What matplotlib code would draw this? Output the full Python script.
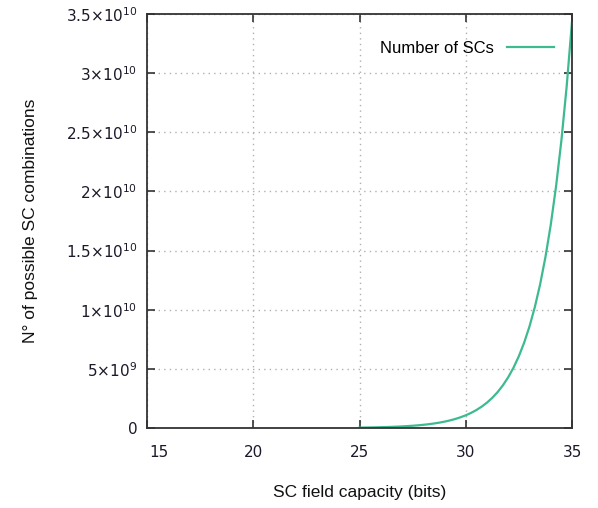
import matplotlib
matplotlib.use("Agg")
import matplotlib.pyplot as plt
from matplotlib.ticker import FixedLocator
import matplotlib.transforms as mtransforms

bits = [25.0, 25.25, 25.5, 25.75, 26.0, 26.25, 26.5, 26.75, 27.0, 27.25, 27.5, 27.75,
        28.0, 28.25, 28.5, 28.75, 29.0, 29.25, 29.5, 29.75, 30.0, 30.25, 30.5, 30.75,
        31.0, 31.25, 31.5, 31.75, 32.0, 32.25, 32.5, 32.75, 33.0, 33.25, 33.5, 33.75,
        34.0, 34.25, 34.5, 34.75, 35.0]
combos = [3.355e7, 3.990e7, 4.745e7, 5.643e7, 6.711e7, 7.981e7, 9.490e7, 1.1286e8,
          1.3422e8, 1.5962e8, 1.8981e8, 2.2573e8, 2.6844e8, 3.1923e8, 3.7962e8, 4.5146e8,
          5.3687e8, 6.3846e8, 7.5925e8, 9.0291e8, 1.0737e9, 1.2769e9, 1.5185e9, 1.8058e9,
          2.1475e9, 2.5539e9, 3.0370e9, 3.6116e9, 4.2950e9, 5.1077e9, 6.0740e9, 7.2233e9,
          8.5899e9, 1.0215e10, 1.2148e10, 1.4447e10, 1.7180e10, 2.0431e10, 2.4296e10,
          2.8893e10, 3.4360e10]
series_name = "Number of SCs"
x_ticks = [15, 20, 25, 30, 35]
y_ticks = [0, 5e9, 1e10, 1.5e10, 2e10, 2.5e10, 3e10, 3.5e10]
y_tick_labels = ["0", "5×10$^{9}$", "1×10$^{10}$", "1.5×10$^{10}$", "2×10$^{10}$",
                 "2.5×10$^{10}$", "3×10$^{10}$", "3.5×10$^{10}$"]

plt.rcParams["font.family"] = ["DejaVu Sans"]
plt.rcParams["mathtext.fontset"] = "dejavusans"

fig = plt.figure(figsize=(5.98, 5.08), dpi=100)
ax = fig.add_axes([147/598, 1-428/508, (572-147)/598, (428-14)/508])

line_color = "#3dba8f"
ax.plot(bits, combos, color=line_color, lw=1.6, label=series_name)

ax.set_xlim(15, 35)
ax.set_ylim(0, 3.5e10)
ax.xaxis.set_major_locator(FixedLocator(x_ticks))
ax.yaxis.set_major_locator(FixedLocator(y_ticks))
ax.set_xticklabels([str(t) for t in x_ticks])
ax.set_yticklabels(y_tick_labels)

ax.grid(True, color="#b0b0b0", linestyle=(0, (1, 3)), linewidth=1.0)
ax.tick_params(direction="in", length=6, width=1.2, top=True, right=True,
               labelsize=11, colors="#333333")
ax.tick_params(axis="x", pad=12)
ax.tick_params(axis="y", pad=7)
ax.tick_params(labelcolor="#1a1a2a")
# first x label sits slightly right of the axis corner, as in the reference
xl = ax.get_xticklabels()
xl[0].set_transform(xl[0].get_transform() + mtransforms.ScaledTranslation(12/100, 0, fig.dpi_scale_trans))
for sp in ax.spines.values():
    sp.set_linewidth(1.3)
    sp.set_color("#333333")

ax.set_xlabel("SC field capacity (bits)", fontsize=12.5, family="Liberation Sans",
              labelpad=18, color="#111111")
ax.set_ylabel("N° of possible SC combinations", fontsize=12.5, family="Liberation Sans",
              labelpad=20, color="#111111")

leg = ax.legend(loc="upper right", frameon=False, markerfirst=False,
                prop={"family": "Liberation Sans", "size": 12},
                handlelength=2.8, bbox_to_anchor=(0.98, 0.96), borderaxespad=0.2)

fig.savefig("out.png", dpi=100)
